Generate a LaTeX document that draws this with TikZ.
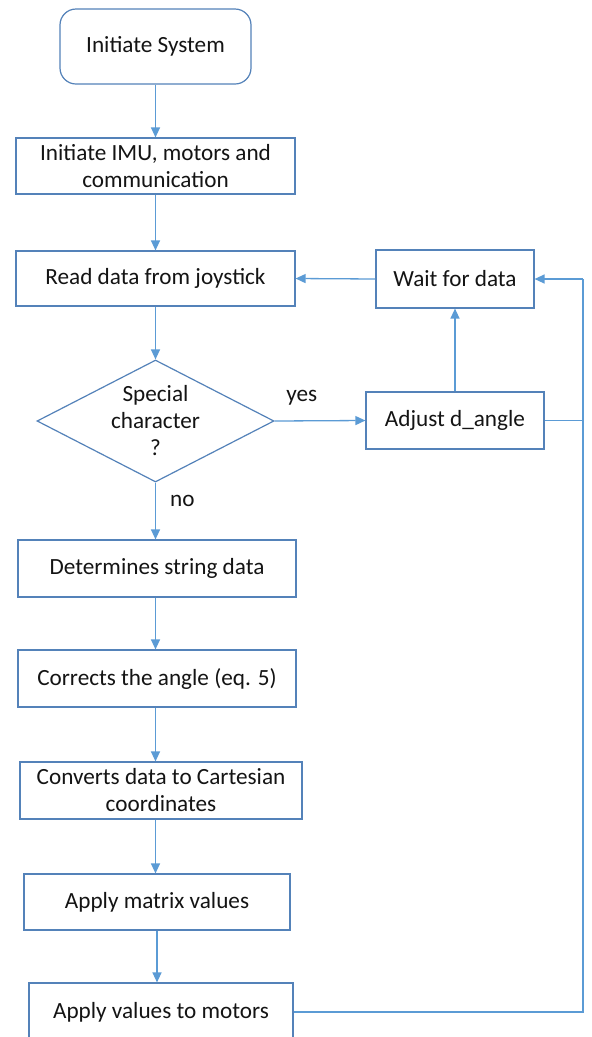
\documentclass[tikz,border=0pt]{standalone}
\usepackage{fontspec}
\setmainfont{Carlito}
\usetikzlibrary{shapes.geometric,arrows.meta}
\definecolor{linec}{RGB}{91,155,213}
\definecolor{boxc}{RGB}{84,130,185}
\definecolor{txtc}{RGB}{20,20,20}
\tikzset{
  box/.style={draw=boxc, line width=1.2pt, fill=white, rectangle, inner sep=0pt, align=center, text=txtc, font=\fontsize{23.2}{27}\selectfont},
  flow/.style={draw=linec, line width=1.3pt, -{Triangle[length=10pt,width=9pt]}},
  plain/.style={draw=linec, line width=1.3pt},
  lbl/.style={text=txtc, font=\fontsize{23.2}{27}\selectfont, inner sep=0pt}
}
\begin{document}
\begin{tikzpicture}[x=1pt,y=-1pt]
\useasboundingbox (0,0) rectangle (592,1037);
\fill[white] (0,0) rectangle (592,1037);
\begin{scope}
\clip (0,0) rectangle (592,1037);
\node[box, rounded corners=16pt, minimum width=191pt, minimum height=75pt] (start) at (155.5,46.5) {Initiate System};
\node[box, minimum width=279pt, minimum height=56pt] (imu) at (155.5,166) {Initiate IMU, motors and\\communication};
\node[box, minimum width=279pt, minimum height=55pt] (read) at (155.5,278.5) {Read data from joystick};
\node[diamond, draw=boxc, line width=1.2pt, fill=white, inner sep=0pt, minimum width=237pt, minimum height=122pt,
  label={[lbl, align=center]center:Special\\character\\?}] (dia) at (155.5,421) {};
\node[box, minimum width=178pt, minimum height=57pt] (adj) at (455,420.5) {Adjust d\_angle};
\node[box, minimum width=158pt, minimum height=58pt] (wait) at (455,279) {Wait for data};
\node[box, minimum width=278pt, minimum height=57pt] (det) at (157,568.5) {Determines string data};
\node[box, minimum width=278pt, minimum height=57pt] (cor) at (157,678.5) {Corrects the angle (eq. 5)};
\node[box, minimum width=282pt, minimum height=57pt] (conv) at (161,790.5) {Converts data to Cartesian\\coordinates};
\node[box, minimum width=266pt, minimum height=56pt] (mat) at (157,902) {Apply matrix values};
\node[box, minimum width=264pt, minimum height=58pt] (mot) at (161,1012) {Apply values to motors};
\coordinate (rtop) at (583,279);
\coordinate (rbot) at (583,1012);

\draw[flow] (start.south) -- (imu.north);
\draw[flow] (imu.south) -- (read.north);
\draw[flow] (read.south) -- (dia.north);
\draw[flow] (dia.south) -- node[lbl, right=14pt, pos=0.32] {no} (det.north -| dia.south);
\draw[flow] (dia.east) -- node[lbl, above=15pt, pos=0.3] {yes} (adj.west);
\draw[flow] (adj.north) -- (wait.south);
\draw[flow] (wait.west) -- (read.east);
\draw[flow] (det.south -| dia.south) -- (dia.south |- cor.north);
\draw[flow] (cor.south -| dia.south) -- (dia.south |- conv.north);
\draw[flow] (conv.south -| dia.south) -- (dia.south |- mat.north);
\draw[flow] (mat.south) -- (mat.south |- mot.north);
\draw[plain] (mot.east) -- (rbot) -- (rtop);
\draw[flow] (rtop) -- (wait.east);
\draw[plain] (adj.east) -- (adj.east -| rtop);
\end{scope}
\end{tikzpicture}
\end{document}
